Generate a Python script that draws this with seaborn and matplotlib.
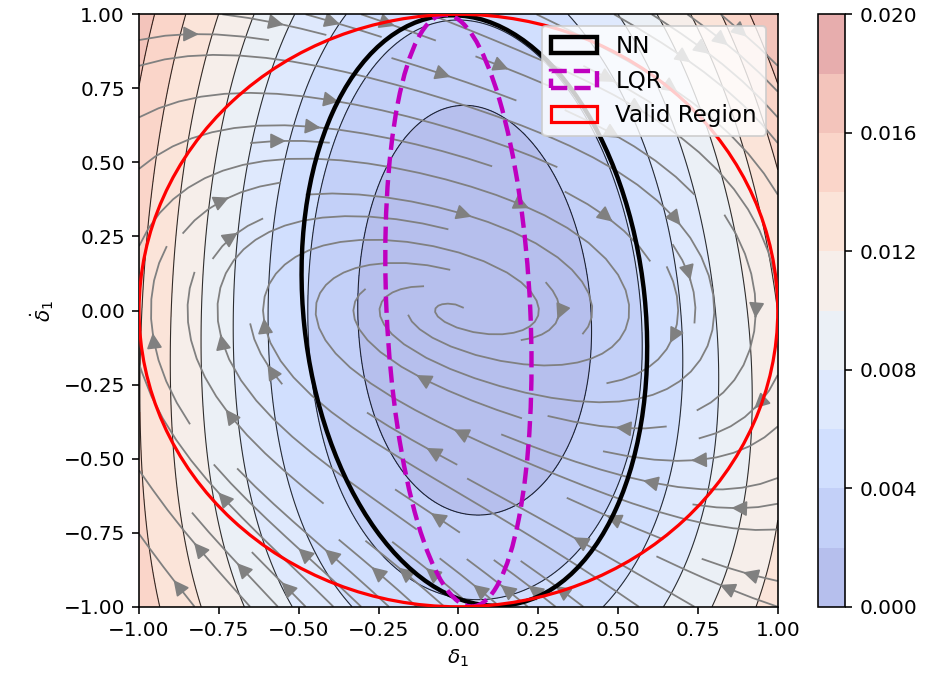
import numpy as np
import matplotlib
matplotlib.use("Agg")
import matplotlib.pyplot as plt
from matplotlib.patches import Ellipse, Circle
import seaborn as sns

sns.set_style("ticks", rc={
    "axes.edgecolor": "black", "xtick.color": "black", "ytick.color": "black",
    "text.color": "black", "axes.labelcolor": "black",
})
plt.rcParams["font.family"] = ["DejaVu Sans"]
plt.rcParams["font.size"] = 10

# Lyapunov function levels shown as filled bands / contour lines
levels = np.linspace(0.0, 0.020, 11)

# Lyapunov function: polynomial in (X, Y) = (delta - x0, delta_dot)
lyap_origin = [0.05, 0.0]
lyap_coef = [0.0153, -0.0022, 0.0042, 0.00093, 0.0007, -0.0015, 0.0018]
lyap_pow_x = [2, 4, 0, 1, 1, 2, 2]
lyap_pow_y = [0, 0, 2, 1, 2, 2, 1]

# closed-loop dynamics: d(delta)/dt = delta_dot,
# d(delta_dot)/dt = -k1 x - k3 x^3 - d1 y - d3 y^3 + e y^2
flow_k1, flow_k3 = 0.25, 0.35
flow_d1, flow_d3 = 0.35, 0.35
flow_e = 0.25

# region of attraction estimates and the valid region
nn_center, nn_width, nn_height, nn_angle = (0.05, 0.0), 1.07, 2.0, 5.5
lqr_center, lqr_width, lqr_height, lqr_angle = (0.0, 0.0), 0.45, 2.0, 2.5
valid_radius = 1.0

xs = np.linspace(-1, 1, 300)
ys = np.linspace(-1, 1, 300)
XX, YY = np.meshgrid(xs, ys)
Xs = XX - lyap_origin[0]
Ys = YY - lyap_origin[1]
V = np.zeros_like(XX)
for c, px, py in zip(lyap_coef, lyap_pow_x, lyap_pow_y):
    V += c * Xs**px * Ys**py

U = YY
W = (-flow_k1 * XX - flow_k3 * XX**3 - flow_d1 * YY - flow_d3 * YY**3
     + flow_e * YY**2)

fig = plt.figure(figsize=(927 / 144, 681 / 144), dpi=144)
ax = fig.add_axes([0.150, 0.109, 0.689, 0.870])
cax = fig.add_axes([0.882, 0.109, 0.030, 0.870])

cf = ax.contourf(XX, YY, V, levels=levels, cmap="coolwarm", alpha=0.4)
ax.contour(XX, YY, V, levels=levels, colors="k", linewidths=0.55, alpha=0.8)
ax.streamplot(xs, ys, U, W, color="gray", density=0.8, linewidth=0.9, arrowsize=1.6)

ax.add_patch(Ellipse(nn_center, nn_width, nn_height, angle=nn_angle, fill=False,
                     edgecolor="black", linewidth=2.2, label="NN", zorder=5))
ax.add_patch(Ellipse(lqr_center, lqr_width, lqr_height, angle=lqr_angle, fill=False,
                     edgecolor="m", linestyle="--", linewidth=2.2, label="LQR", zorder=5))
ax.add_patch(Circle((0, 0), valid_radius, fill=False, edgecolor="red",
                    linewidth=1.6, label="Valid Region", zorder=5))

ax.set_xlim(-1, 1)
ax.set_ylim(-1, 1)
ax.set_xticks(np.arange(-1, 1.01, 0.25))
ax.set_yticks(np.arange(-1, 1.01, 0.25))
ax.set_xlabel(r"$\delta_1$")
ax.set_ylabel(r"$\dot{\delta}_1$")
leg = ax.legend(loc="upper right", fontsize=11.5)
leg.set_zorder(10)

fig.colorbar(cf, cax=cax)

fig.savefig("out.png", dpi=144)
